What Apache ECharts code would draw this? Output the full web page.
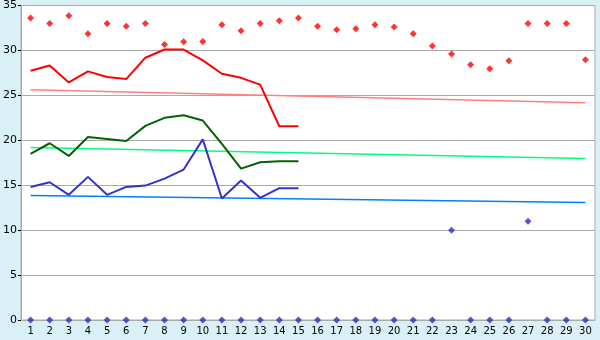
<!DOCTYPE html>
<html>
<head>
<meta charset="utf-8">
<script src="https://cdn.jsdelivr.net/npm/echarts@6/dist/echarts.min.js"></script>
<style>
html,body{margin:0;padding:0;background:#d9f0f7;}
#c{width:600px;height:340px;}
</style>
</head>
<body>
<div id="c"></div>
<script>
var days = ['1','2','3','4','5','6','7','8','9','10','11','12','13','14','15','16','17','18','19','20','21','22','23','24','25','26','27','28','29','30'];
var yTicks = [0, 5, 10, 15, 20, 25, 30, 35];
var maxPoints = [33.6, 33.0, 33.85, 31.85, 33.0, 32.7, 33.0, 30.67, 30.96, 31.0, 32.85, 32.2, 33.0, 33.3, 33.6, 32.7, 32.3, 32.4, 32.85, 32.6, 31.85, 30.5, 29.6, 28.4, 27.95, 28.85, 33.0, 33.0, 33.0, 28.95];
var minPoints = [0, 0, 0, 0, 0, 0, 0, 0, 0, 0, 0, 0, 0, 0, 0, 0, 0, 0, 0, 0, 0, 0, 10, 0, 0, 0, 11, 0, 0, 0];
var redLine = [27.74, 28.33, 26.44, 27.67, 27.04, 26.81, 29.19, 30.1, 30.1, 28.9, 27.4, 26.95, 26.2, 21.56, 21.56];
var greenLine = [18.5, 19.67, 18.26, 20.37, 20.15, 19.93, 21.6, 22.5, 22.78, 22.2, 19.6, 16.85, 17.56, 17.67, 17.67];
var blueLine = [14.81, 15.33, 13.93, 15.93, 13.93, 14.81, 14.96, 15.74, 16.74, 20.1, 13.52, 15.52, 13.6, 14.67, 14.67];
var redTrend = [25.63, 24.19];
var greenTrend = [19.19, 17.96];
var blueTrend = [13.85, 13.07];

function trendData(ends) {
  var d = days.map(function () { return null; });
  d[0] = ends[0];
  d[days.length - 1] = ends[1];
  return d;
}

var chart = echarts.init(document.getElementById('c'));
var font = 'DejaVu Sans';
chart.setOption({
  animation: false,
  backgroundColor: '#d9f0f7',
  grid: { left: 20, right: 5, top: 5, bottom: 20, show: true, backgroundColor: '#ffffff', borderColor: '#aaaaaa', borderWidth: 1 },
  xAxis: {
    type: 'category', data: days, boundaryGap: true,
    axisLine: { lineStyle: { color: '#aaaaaa', width: 1 } },
    axisTick: { alignWithLabel: true, length: 5, lineStyle: { color: '#000000' } },
    axisLabel: { interval: 0, color: '#000000', fontFamily: font, fontSize: 10, margin: 6 },
    splitLine: { show: false }
  },
  yAxis: {
    type: 'value', min: yTicks[0], max: yTicks[yTicks.length - 1], interval: 5,
    axisLine: { show: true, lineStyle: { color: '#aaaaaa' } },
    axisTick: { show: true, length: 3, lineStyle: { color: '#000000' } },
    axisLabel: { color: '#000000', fontFamily: font, fontSize: 11, margin: 4 },
    splitLine: { lineStyle: { color: '#aaaaaa', width: 1 } }
  },
  series: [
    { type: 'line', data: trendData(redTrend), connectNulls: true, showSymbol: false, lineStyle: { color: '#ff8080', width: 1.5 }, z: 1 },
    { type: 'line', data: trendData(greenTrend), connectNulls: true, showSymbol: false, lineStyle: { color: '#00ff80', width: 1.5 }, z: 1 },
    { type: 'line', data: trendData(blueTrend), connectNulls: true, showSymbol: false, lineStyle: { color: '#0080ff', width: 1.5 }, z: 1 },
    { type: 'line', data: redLine, showSymbol: false, lineStyle: { color: '#ff0000', width: 2 }, z: 2 },
    { type: 'line', data: greenLine, showSymbol: false, lineStyle: { color: '#006400', width: 2 }, z: 2 },
    { type: 'line', data: blueLine, showSymbol: false, lineStyle: { color: '#3333cc', width: 2 }, z: 2 },
    { type: 'scatter', data: maxPoints, symbol: 'diamond', symbolSize: 7, itemStyle: { color: '#ff0000' }, clip: false, z: 3 },
    { type: 'scatter', data: minPoints, symbol: 'diamond', symbolSize: 7, itemStyle: { color: '#2a2acc' }, clip: false, z: 3 }
  ]
});
</script>
</body>
</html>
